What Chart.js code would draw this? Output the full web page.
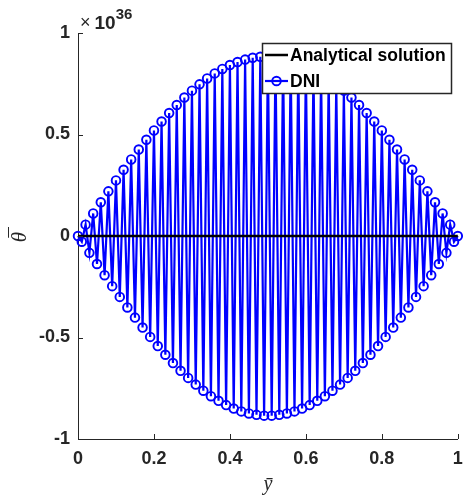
<!DOCTYPE html>
<html>
<head>
<meta charset="utf-8">
<script src="https://cdn.jsdelivr.net/npm/chart.js@4/dist/chart.umd.min.js"></script>
<style>
  html, body { margin: 0; padding: 0; background: #fff; }
  canvas { display: block; }
</style>
</head>
<body>
<canvas id="plot" width="464" height="497"></canvas>
<script>
// Grid positions along the normalised coordinate y-bar
const yBar = [
  0.00, 0.01, 0.02, 0.03, 0.04, 0.05, 0.06, 0.07, 0.08, 0.09,
  0.10, 0.11, 0.12, 0.13, 0.14, 0.15, 0.16, 0.17, 0.18, 0.19,
  0.20, 0.21, 0.22, 0.23, 0.24, 0.25, 0.26, 0.27, 0.28, 0.29,
  0.30, 0.31, 0.32, 0.33, 0.34, 0.35, 0.36, 0.37, 0.38, 0.39,
  0.40, 0.41, 0.42, 0.43, 0.44, 0.45, 0.46, 0.47, 0.48, 0.49,
  0.50, 0.51, 0.52, 0.53, 0.54, 0.55, 0.56, 0.57, 0.58, 0.59,
  0.60, 0.61, 0.62, 0.63, 0.64, 0.65, 0.66, 0.67, 0.68, 0.69,
  0.70, 0.71, 0.72, 0.73, 0.74, 0.75, 0.76, 0.77, 0.78, 0.79,
  0.80, 0.81, 0.82, 0.83, 0.84, 0.85, 0.86, 0.87, 0.88, 0.89,
  0.90, 0.91, 0.92, 0.93, 0.94, 0.95, 0.96, 0.97, 0.98, 0.99,
  1.00
];

// DNI temperature, in units of 10^36 (odd-even oscillating solution)
const dniTheta = [
  0.000, -0.028, 0.056, -0.083, 0.111, -0.138, 0.166, -0.193, 0.220, -0.247,
  0.274, -0.300, 0.326, -0.352, 0.377, -0.402, 0.426, -0.451, 0.474, -0.497,
  0.520, -0.542, 0.564, -0.585, 0.606, -0.626, 0.645, -0.664, 0.682, -0.699,
  0.716, -0.732, 0.747, -0.762, 0.776, -0.789, 0.801, -0.812, 0.823, -0.833,
  0.842, -0.850, 0.857, -0.864, 0.869, -0.874, 0.878, -0.881, 0.883, -0.885,
  0.885, -0.885, 0.883, -0.881, 0.878, -0.874, 0.869, -0.864, 0.857, -0.850,
  0.842, -0.833, 0.823, -0.812, 0.801, -0.789, 0.776, -0.762, 0.747, -0.732,
  0.716, -0.699, 0.682, -0.664, 0.645, -0.626, 0.606, -0.585, 0.564, -0.542,
  0.520, -0.497, 0.474, -0.451, 0.426, -0.402, 0.377, -0.352, 0.326, -0.300,
  0.274, -0.247, 0.220, -0.193, 0.166, -0.138, 0.111, -0.083, 0.056, -0.028,
  0.000
];

// Analytical solution (same 10^36 units)
const analyticY = [0, 1];
const analyticTheta = [0, 0];

const yExponent = 36;

const xTicks = [0, 0.2, 0.4, 0.6, 0.8, 1];
const xTickLabels = ['0', '0.2', '0.4', '0.6', '0.8', '1'];
const yTicks = [-1, -0.5, 0, 0.5, 1];
const yTickLabels = ['-1', '-0.5', '0', '0.5', '1'];

const seriesNames = ['Analytical solution', 'DNI'];
const xTitle = '\u0233';          // y-bar
const yTitleBase = '\u03b8';      // theta
const yTitleAccent = '\u00af';    // bar over theta

const AXIS_COLOR = '#262626';
const SANS = '"Liberation Sans", Arial, Helvetica, sans-serif';
const SERIF = '"Liberation Serif", "Times New Roman", serif';
const tickFont = { family: SANS, size: 18, weight: 'bold' };

const toXY = (xs, ys) => xs.map((x, i) => ({ x: x, y: ys[i] }));

// MATLAB-style inward tick marks
const innerTicks = {
  id: 'innerTicks',
  afterDraw(chart) {
    const { ctx, chartArea, scales } = chart;
    ctx.save();
    ctx.strokeStyle = AXIS_COLOR;
    ctx.lineWidth = 1;
    const len = 5;
    scales.x.ticks.forEach(t => {
      const px = Math.round(scales.x.getPixelForValue(t.value)) + 0.5;
      ctx.beginPath();
      ctx.moveTo(px, chartArea.bottom);
      ctx.lineTo(px, chartArea.bottom - len);
      ctx.stroke();
    });
    scales.y.ticks.forEach(t => {
      const py = Math.round(scales.y.getPixelForValue(t.value)) + 0.5;
      ctx.beginPath();
      ctx.moveTo(chartArea.left, py);
      ctx.lineTo(chartArea.left + len, py);
      ctx.stroke();
    });
    ctx.restore();
  }
};

// "x 10^36" multiplier above the y axis
const exponentLabel = {
  id: 'exponentLabel',
  afterDraw(chart) {
    const { ctx, chartArea } = chart;
    ctx.save();
    ctx.fillStyle = AXIS_COLOR;
    ctx.textBaseline = 'alphabetic';
    ctx.textAlign = 'left';
    let x = chartArea.left + 2;
    const base = 29;
    ctx.font = '18px ' + SANS;
    ctx.fillText('\u00d7', x, base - 1);
    x += ctx.measureText('\u00d7').width + 4;
    ctx.font = 'bold 19px ' + SANS;
    ctx.fillText('10', x, base);
    x += ctx.measureText('10').width;
    ctx.font = 'bold 15px ' + SANS;
    ctx.fillText(String(yExponent), x, base - 10);
    ctx.restore();
  }
};

// Rotated theta-bar title beside the y axis
const yAxisTitle = {
  id: 'yAxisTitle',
  afterDraw(chart) {
    const { ctx, chartArea } = chart;
    const cy = (chartArea.top + chartArea.bottom) / 2 + 1;
    ctx.save();
    ctx.translate(18, cy);
    ctx.rotate(-Math.PI / 2);
    ctx.fillStyle = AXIS_COLOR;
    ctx.font = 'italic 21px ' + SERIF;
    ctx.textAlign = 'center';
    ctx.textBaseline = 'alphabetic';
    const m = ctx.measureText(yTitleBase);
    const midShift = (m.actualBoundingBoxAscent - m.actualBoundingBoxDescent) / 2;
    ctx.fillText(yTitleBase, 0, midShift);
    // accent sits just above the glyph top, nudged right for the italic slant
    const a = ctx.measureText(yTitleAccent);
    const glyphTop = midShift - m.actualBoundingBoxAscent;
    const accentBottom = glyphTop - 1.5;
    ctx.fillText(yTitleAccent, 3, accentBottom - a.actualBoundingBoxDescent);
    ctx.restore();
  }
};

// Boxed legend in the upper right of the axes
const boxLegend = {
  id: 'boxLegend',
  afterDatasetsDraw(chart) {
    const { ctx } = chart;
    const box = { x: 262.5, y: 43.5, w: 189, h: 50 };
    ctx.save();
    ctx.fillStyle = '#ffffff';
    ctx.fillRect(box.x, box.y, box.w, box.h);
    ctx.strokeStyle = AXIS_COLOR;
    ctx.lineWidth = 1.5;
    ctx.strokeRect(box.x, box.y, box.w, box.h);

    const rows = [55, 81];
    chart.data.datasets.forEach((ds, i) => {
      const cy = rows[i];
      ctx.strokeStyle = ds.borderColor;
      ctx.lineWidth = ds.borderWidth;
      ctx.beginPath();
      ctx.moveTo(265, cy);
      ctx.lineTo(288, cy);
      ctx.stroke();
      if (ds.pointRadius > 0) {
        ctx.lineWidth = ds.pointBorderWidth;
        ctx.beginPath();
        ctx.arc(276.5, cy, ds.pointRadius, 0, Math.PI * 2);
        ctx.stroke();
      }
      ctx.fillStyle = '#000000';
      ctx.font = 'bold 17.5px ' + SANS;
      ctx.textBaseline = 'middle';
      ctx.textAlign = 'left';
      ctx.fillText(ds.label, 290, cy + 1);
    });
    ctx.restore();
  }
};

new Chart(document.getElementById('plot'), {
  type: 'line',
  data: {
    datasets: [
      {
        label: seriesNames[0],
        data: toXY(analyticY, analyticTheta),
        borderColor: '#000000',
        borderWidth: 2.5,
        pointRadius: 0,
        tension: 0,
        clip: false
      },
      {
        label: seriesNames[1],
        data: toXY(yBar, dniTheta),
        borderColor: '#0000ff',
        borderWidth: 2.2,
        pointRadius: 4.3,
        pointBorderWidth: 1.9,
        pointBorderColor: '#0000ff',
        pointBackgroundColor: 'rgba(0,0,0,0)',
        tension: 0,
        clip: false
      }
    ]
  },
  options: {
    responsive: false,
    animation: false,
    devicePixelRatio: 1,
    layout: { padding: { left: 0, top: 33, right: 2.5, bottom: 0 } },
    plugins: { legend: { display: false }, tooltip: { enabled: false } },
    scales: {
      x: {
        type: 'linear',
        min: 0, max: 1,
        afterBuildTicks(scale) { scale.ticks = xTicks.map(v => ({ value: v })); },
        afterFit(scale) { scale.height = 58; scale.paddingLeft = 0; scale.paddingRight = 2.5; },
        ticks: {
          color: AXIS_COLOR,
          font: tickFont,
          padding: 9,
          maxRotation: 0,
          autoSkip: false,
          callback: (v, i) => xTickLabels[i]
        },
        grid: { display: true, drawOnChartArea: false, drawTicks: false, color: 'rgba(0,0,0,0)' },
        border: { display: true, color: AXIS_COLOR, width: 1 },
        title: {
          display: true,
          text: xTitle,
          color: AXIS_COLOR,
          font: { family: SERIF, size: 20, style: 'italic' },
          padding: { top: 0, bottom: 0 }
        }
      },
      y: {
        type: 'linear',
        min: -1, max: 1,
        afterBuildTicks(scale) { scale.ticks = yTicks.map(v => ({ value: v })); },
        afterFit(scale) { scale.width = 78; },
        ticks: {
          color: AXIS_COLOR,
          font: tickFont,
          padding: 8,
          autoSkip: false,
          callback: (v, i) => yTickLabels[i]
        },
        grid: { display: true, drawOnChartArea: false, drawTicks: false, color: 'rgba(0,0,0,0)' },
        border: { display: true, color: AXIS_COLOR, width: 1 },
        title: { display: false }
      }
    }
  },
  plugins: [innerTicks, exponentLabel, yAxisTitle, boxLegend]
});
</script>
</body>
</html>
